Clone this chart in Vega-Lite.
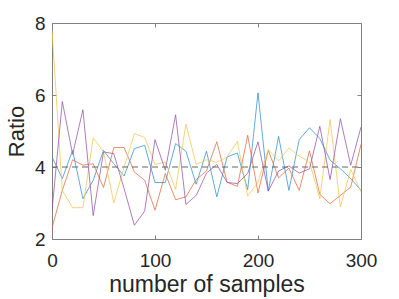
{
  "$schema": "https://vega.github.io/schema/vega-lite/v6.json",
  "autosize": "none",
  "width": 309,
  "height": 216,
  "padding": {"left": 52, "top": 23, "right": 38, "bottom": 60},
  "background": "white",
  "config": {
    "font": "Liberation Sans",
    "view": {"stroke": "#808080", "strokeWidth": 1},
    "axis": {
      "grid": false,
      "domainColor": "#808080",
      "tickColor": "#808080",
      "labelColor": "#262626",
      "titleColor": "#262626",
      "labelFont": "Liberation Sans",
      "titleFont": "Liberation Sans",
      "labelFontSize": 19,
      "titleFontSize": 23,
      "titleFontWeight": "normal",
      "labelFlush": false,
      "labelOverlap": false
    }
  },
  "datasets": {
    "ratios": [
      {"series": "A", "sample": 0, "ratio": 4.28},
      {"series": "A", "sample": 10, "ratio": 3.68},
      {"series": "A", "sample": 20, "ratio": 4.46},
      {"series": "A", "sample": 30, "ratio": 3.12},
      {"series": "A", "sample": 40, "ratio": 3.63},
      {"series": "A", "sample": 50, "ratio": 4.46},
      {"series": "A", "sample": 60, "ratio": 4.09},
      {"series": "A", "sample": 70, "ratio": 3.75},
      {"series": "A", "sample": 80, "ratio": 4.51},
      {"series": "A", "sample": 90, "ratio": 4.6},
      {"series": "A", "sample": 100, "ratio": 3.57},
      {"series": "A", "sample": 110, "ratio": 3.57},
      {"series": "A", "sample": 120, "ratio": 4.65},
      {"series": "A", "sample": 130, "ratio": 4.44},
      {"series": "A", "sample": 140, "ratio": 3.52},
      {"series": "A", "sample": 150, "ratio": 4.44},
      {"series": "A", "sample": 160, "ratio": 3.17},
      {"series": "A", "sample": 170, "ratio": 4.28},
      {"series": "A", "sample": 180, "ratio": 4.39},
      {"series": "A", "sample": 190, "ratio": 3.37},
      {"series": "A", "sample": 200, "ratio": 6.06},
      {"series": "A", "sample": 210, "ratio": 3.33},
      {"series": "A", "sample": 220, "ratio": 4.85},
      {"series": "A", "sample": 230, "ratio": 3.35},
      {"series": "A", "sample": 240, "ratio": 4.76},
      {"series": "A", "sample": 250, "ratio": 5.09},
      {"series": "A", "sample": 260, "ratio": 4.79},
      {"series": "A", "sample": 270, "ratio": 4.19},
      {"series": "A", "sample": 280, "ratio": 3.95},
      {"series": "A", "sample": 290, "ratio": 3.68},
      {"series": "A", "sample": 300, "ratio": 3.35},
      {"series": "B", "sample": 0, "ratio": 2.31},
      {"series": "B", "sample": 10, "ratio": 3.35},
      {"series": "B", "sample": 20, "ratio": 4.2},
      {"series": "B", "sample": 30, "ratio": 4.05},
      {"series": "B", "sample": 40, "ratio": 4.09},
      {"series": "B", "sample": 50, "ratio": 3.43},
      {"series": "B", "sample": 60, "ratio": 4.54},
      {"series": "B", "sample": 70, "ratio": 4.54},
      {"series": "B", "sample": 80, "ratio": 3.86},
      {"series": "B", "sample": 90, "ratio": 3.63},
      {"series": "B", "sample": 100, "ratio": 2.8},
      {"series": "B", "sample": 110, "ratio": 3.82},
      {"series": "B", "sample": 120, "ratio": 3.09},
      {"series": "B", "sample": 130, "ratio": 3.17},
      {"series": "B", "sample": 140, "ratio": 3.65},
      {"series": "B", "sample": 150, "ratio": 3.89},
      {"series": "B", "sample": 160, "ratio": 4.7},
      {"series": "B", "sample": 170, "ratio": 3.58},
      {"series": "B", "sample": 180, "ratio": 3.46},
      {"series": "B", "sample": 190, "ratio": 4.88},
      {"series": "B", "sample": 200, "ratio": 3.28},
      {"series": "B", "sample": 210, "ratio": 4.46},
      {"series": "B", "sample": 220, "ratio": 3.7},
      {"series": "B", "sample": 230, "ratio": 3.97},
      {"series": "B", "sample": 240, "ratio": 3.35},
      {"series": "B", "sample": 250, "ratio": 4.45},
      {"series": "B", "sample": 260, "ratio": 3.24},
      {"series": "B", "sample": 270, "ratio": 2.98},
      {"series": "B", "sample": 280, "ratio": 3.21},
      {"series": "B", "sample": 290, "ratio": 3.44},
      {"series": "B", "sample": 300, "ratio": 4.63},
      {"series": "C", "sample": 0, "ratio": 7.8},
      {"series": "C", "sample": 10, "ratio": 3.35},
      {"series": "C", "sample": 20, "ratio": 2.87},
      {"series": "C", "sample": 30, "ratio": 2.87},
      {"series": "C", "sample": 40, "ratio": 4.81},
      {"series": "C", "sample": 50, "ratio": 4.42},
      {"series": "C", "sample": 60, "ratio": 3.0},
      {"series": "C", "sample": 70, "ratio": 4.0},
      {"series": "C", "sample": 80, "ratio": 4.93},
      {"series": "C", "sample": 90, "ratio": 4.82},
      {"series": "C", "sample": 100, "ratio": 4.07},
      {"series": "C", "sample": 110, "ratio": 4.14},
      {"series": "C", "sample": 120, "ratio": 3.38},
      {"series": "C", "sample": 130, "ratio": 5.19},
      {"series": "C", "sample": 140, "ratio": 4.07},
      {"series": "C", "sample": 150, "ratio": 4.2},
      {"series": "C", "sample": 160, "ratio": 4.13},
      {"series": "C", "sample": 170, "ratio": 4.28},
      {"series": "C", "sample": 180, "ratio": 4.71},
      {"series": "C", "sample": 190, "ratio": 3.19},
      {"series": "C", "sample": 200, "ratio": 3.58},
      {"series": "C", "sample": 210, "ratio": 4.48},
      {"series": "C", "sample": 220, "ratio": 4.17},
      {"series": "C", "sample": 230, "ratio": 4.53},
      {"series": "C", "sample": 240, "ratio": 4.3},
      {"series": "C", "sample": 250, "ratio": 4.14},
      {"series": "C", "sample": 260, "ratio": 3.12},
      {"series": "C", "sample": 270, "ratio": 5.32},
      {"series": "C", "sample": 280, "ratio": 2.89},
      {"series": "C", "sample": 290, "ratio": 3.93},
      {"series": "C", "sample": 300, "ratio": 3.31},
      {"series": "D", "sample": 0, "ratio": 2.78},
      {"series": "D", "sample": 10, "ratio": 5.82},
      {"series": "D", "sample": 20, "ratio": 4.35},
      {"series": "D", "sample": 30, "ratio": 5.59},
      {"series": "D", "sample": 40, "ratio": 2.65},
      {"series": "D", "sample": 50, "ratio": 4.42},
      {"series": "D", "sample": 60, "ratio": 4.37},
      {"series": "D", "sample": 70, "ratio": 3.4},
      {"series": "D", "sample": 80, "ratio": 2.38},
      {"series": "D", "sample": 90, "ratio": 2.78},
      {"series": "D", "sample": 100, "ratio": 4.76},
      {"series": "D", "sample": 110, "ratio": 3.91},
      {"series": "D", "sample": 120, "ratio": 5.45},
      {"series": "D", "sample": 130, "ratio": 2.96},
      {"series": "D", "sample": 140, "ratio": 3.21},
      {"series": "D", "sample": 150, "ratio": 3.83},
      {"series": "D", "sample": 160, "ratio": 4.07},
      {"series": "D", "sample": 170, "ratio": 3.57},
      {"series": "D", "sample": 180, "ratio": 3.54},
      {"series": "D", "sample": 190, "ratio": 3.82},
      {"series": "D", "sample": 200, "ratio": 4.7},
      {"series": "D", "sample": 210, "ratio": 3.33},
      {"series": "D", "sample": 220, "ratio": 3.89},
      {"series": "D", "sample": 230, "ratio": 4.03},
      {"series": "D", "sample": 240, "ratio": 3.83},
      {"series": "D", "sample": 250, "ratio": 3.95},
      {"series": "D", "sample": 260, "ratio": 5.13},
      {"series": "D", "sample": 270, "ratio": 3.65},
      {"series": "D", "sample": 280, "ratio": 5.34},
      {"series": "D", "sample": 290, "ratio": 4.05},
      {"series": "D", "sample": 300, "ratio": 5.11}
    ]
  },
  "data": {"name": "ratios"},
  "layer": [
    {
      "mark": {"type": "line", "strokeWidth": 0.75, "clip": true},
      "encoding": {
        "x": {
          "field": "sample", "type": "quantitative",
          "scale": {"domain": [0, 300], "nice": false, "zero": false},
          "axis": {"values": [0, 100, 200, 300], "tickSize": -4, "labelPadding": 16, "title": "number of samples", "titlePadding": 3}
        },
        "y": {
          "field": "ratio", "type": "quantitative",
          "scale": {"domain": [2, 8], "nice": false, "zero": false},
          "axis": {"values": [2, 4, 6, 8], "tickSize": -4, "labelPadding": 11, "title": "Ratio", "titleFontSize": 22, "titlePadding": 6}
        },
        "color": {
          "field": "series", "type": "nominal",
          "scale": {"domain": ["A", "B", "C", "D"], "range": ["#2F8FD0", "#E06A3A", "#F2C450", "#9651A6"]},
          "legend": null
        },
        "order": {"field": "sample"}
      }
    },
    {
      "mark": {"type": "rule", "color": "#666666", "strokeWidth": 1, "strokeDash": [6, 4]},
      "encoding": {
        "x": {"aggregate": "min", "field": "sample", "type": "quantitative",
          "axis": {"orient": "top", "values": [0, 100, 200, 300], "labels": false, "tickSize": -4, "title": null, "domain": false}},
        "x2": {"aggregate": "max", "field": "sample"},
        "y": {"datum": 4, "type": "quantitative",
          "axis": {"orient": "right", "values": [2, 4, 6, 8], "labels": false, "tickSize": -4, "title": null, "domain": false}}
      }
    }
  ],
  "resolve": {"axis": {"x": "independent", "y": "independent"}}
}
